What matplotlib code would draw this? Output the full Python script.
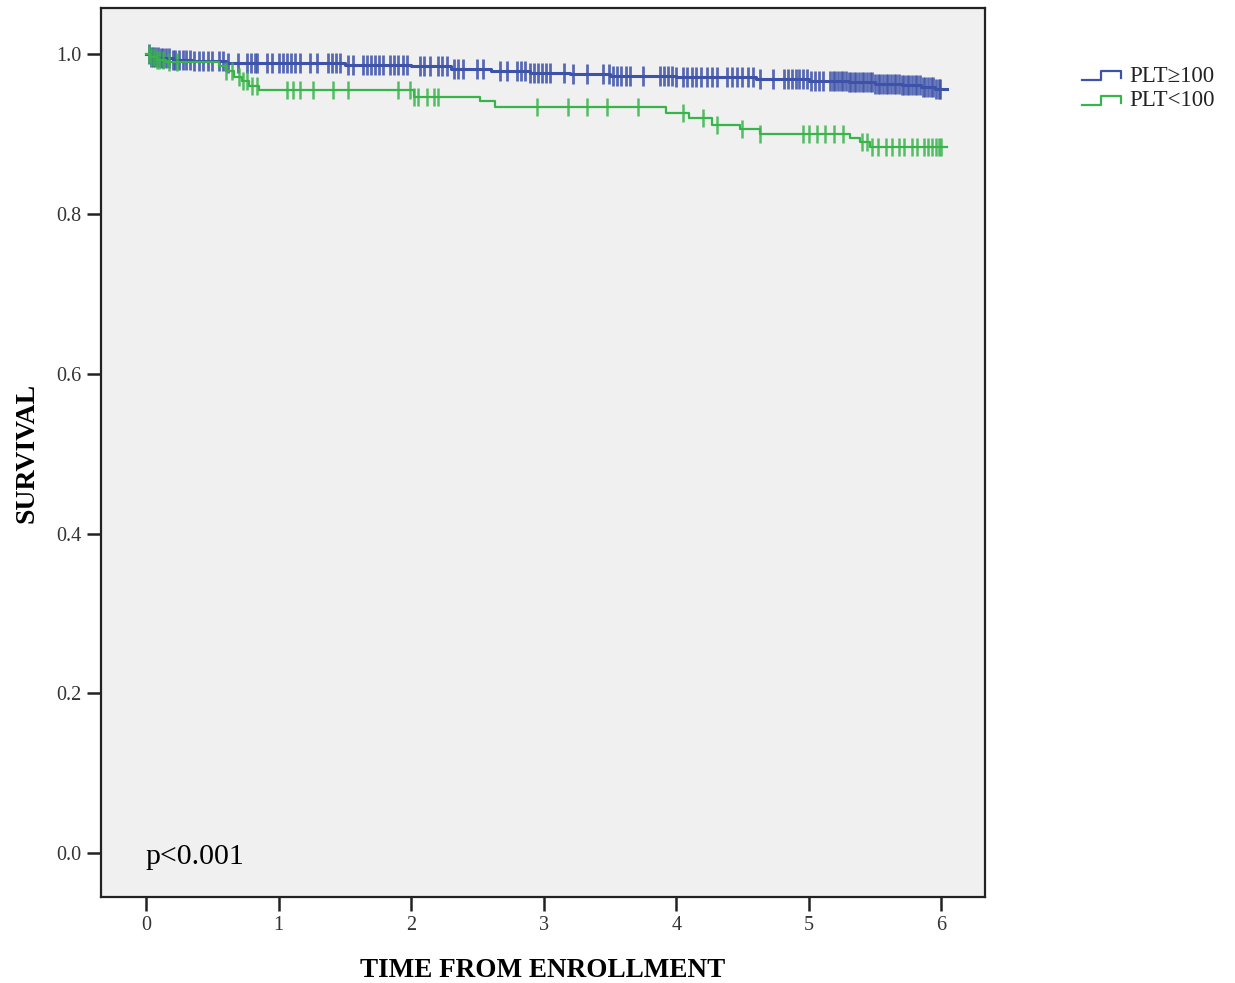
import numpy as np
import matplotlib.pyplot as plt
from matplotlib.lines import Line2D

plt.rcParams['font.family'] = ['Liberation Serif', 'DejaVu Serif']

# Kaplan-Meier step points: PLT>=100
hi_times = [0.0, 0.03, 0.1, 0.2, 0.35, 0.6, 1.5, 2.0, 2.3, 2.6, 2.9, 3.2, 3.5,
            4.0, 4.6, 5.0, 5.3, 5.5, 5.7, 5.85, 5.95]
hi_surv = [1.0, 0.997, 0.995, 0.993, 0.991, 0.989, 0.987, 0.985, 0.982, 0.979,
           0.977, 0.975, 0.973, 0.971, 0.969, 0.967, 0.965, 0.963, 0.961, 0.959, 0.957]
hi_end = 6.04
hi_censor = [0.02, 0.04, 0.05, 0.07, 0.09, 0.11, 0.13, 0.15, 0.17, 0.2, 0.22, 0.25,
             0.28, 0.3, 0.33, 0.36, 0.4, 0.43, 0.47, 0.5, 0.55, 0.58, 0.62, 0.69,
             0.76, 0.79, 0.82, 0.84, 0.91, 0.95, 1.0, 1.03, 1.06, 1.09, 1.12, 1.16,
             1.24, 1.29, 1.37, 1.4, 1.43, 1.46, 1.52, 1.56, 1.64, 1.67, 1.7, 1.73,
             1.76, 1.79, 1.84, 1.87, 1.9, 1.94, 1.97, 2.07, 2.1, 2.14, 2.2, 2.23,
             2.27, 2.32, 2.35, 2.39, 2.5, 2.54, 2.67, 2.72, 2.8, 2.83, 2.86, 2.9,
             2.93, 2.96, 2.99, 3.02, 3.05, 3.15, 3.22, 3.33, 3.45, 3.49, 3.52, 3.55,
             3.58, 3.62, 3.65, 3.75, 3.88, 3.91, 3.94, 3.97, 4.0, 4.05, 4.08, 4.12,
             4.15, 4.19, 4.23, 4.27, 4.31, 4.38, 4.42, 4.46, 4.5, 4.54, 4.58, 4.63,
             4.73, 4.81, 4.84, 4.87, 4.9, 4.93, 4.96, 4.99, 5.02, 5.05, 5.08, 5.11,
             5.16, 5.18, 5.2, 5.22, 5.24, 5.26, 5.28, 5.3, 5.32, 5.34, 5.36, 5.38,
             5.4, 5.42, 5.44, 5.46, 5.48, 5.5, 5.52, 5.54, 5.56, 5.58, 5.6, 5.62,
             5.64, 5.66, 5.68, 5.7, 5.72, 5.74, 5.76, 5.78, 5.8, 5.82, 5.84, 5.86,
             5.88, 5.9, 5.92, 5.94, 5.96, 5.98, 5.99]

# PLT<100
lo_times = [0.0, 0.03, 0.08, 0.15, 0.55, 0.6, 0.66, 0.72, 0.78, 0.85, 2.02, 2.52,
            2.63, 3.92, 4.1, 4.27, 4.48, 4.63, 5.31, 5.39, 5.46]
lo_surv = [1.0, 0.996, 0.993, 0.99, 0.985, 0.979, 0.972, 0.966, 0.96, 0.955, 0.947,
           0.941, 0.934, 0.927, 0.92, 0.912, 0.906, 0.9, 0.895, 0.89, 0.884]
lo_end = 6.04
lo_censor = [0.02, 0.04, 0.06, 0.08, 0.1, 0.13, 0.17, 0.23, 0.6, 0.65, 0.7, 0.73,
             0.76, 0.8, 0.84, 1.06, 1.11, 1.16, 1.26, 1.41, 1.52, 1.9, 1.99, 2.02,
             2.05, 2.12, 2.17, 2.2, 2.95, 3.18, 3.33, 3.48, 3.71, 4.05, 4.2, 4.31,
             4.5, 4.63, 4.96, 5.0, 5.06, 5.12, 5.19, 5.26, 5.4, 5.44, 5.48, 5.52,
             5.58, 5.63, 5.68, 5.72, 5.78, 5.82, 5.87, 5.9, 5.93, 5.96, 5.98, 6.0]

BLUE = '#3d52a9'
GREEN = '#38b44a'


def surv_at(times, surv, t):
    idx = np.searchsorted(times, t, side='right') - 1
    return np.asarray(surv)[idx]


fig = plt.figure(figsize=(12.35, 9.83), dpi=100)
ax = fig.add_axes([0.0818, 0.0875, 0.7158, 0.9044])
ax.set_facecolor('#f0f0f0')

for times, surv, end, cens, col, lw, ms, mew in [
        (hi_times, hi_surv, hi_end, hi_censor, BLUE, 2.2, 14, 2.0),
        (lo_times, lo_surv, lo_end, lo_censor, GREEN, 1.6, 13, 1.8)]:
    ax.step(list(times) + [end], list(surv) + [surv[-1]], where='post',
            color=col, lw=lw, zorder=3)
    ax.plot(cens, surv_at(times, surv, cens), linestyle='none', marker='|',
            ms=ms, mew=mew, color=col, alpha=0.85, zorder=3)

ax.set_xlim(-0.34, 6.33)
ax.set_ylim(-0.055, 1.058)
ax.set_xticks(range(7))
ax.set_yticks([0.0, 0.2, 0.4, 0.6, 0.8, 1.0])
ax.set_yticklabels(['0.0', '0.2', '0.4', '0.6', '0.8', '1.0'])
ax.tick_params(direction='out', length=10, width=1.8, color='#222222',
               labelsize=14.5, labelcolor='#333333', pad=4)

for sp in ax.spines.values():
    sp.set_linewidth(1.6)
    sp.set_color('#222222')

ax.set_xlabel('TIME FROM ENROLLMENT', fontsize=19.5, fontweight='bold', labelpad=16)
ax.set_ylabel('SURVIVAL', fontsize=20, fontweight='bold', labelpad=12)

ax.text(0.05, 0.045, 'p<0.001', transform=ax.transAxes, fontsize=21.5,
        ha='left', va='center')

# legend with step-shaped keys, placed to the right of the axes
W, H = 1235.0, 983.0
for (ybase, ytop), col, label in [((80, 71), BLUE, 'PLT≥100'),
                                  ((105, 96), GREEN, 'PLT<100')]:
    xs = np.array([1082, 1101, 1101, 1121, 1121]) / W
    ys = 1 - np.array([ybase, ybase, ytop, ytop, ybase - 2]) / H
    fig.add_artist(Line2D(xs, ys, transform=fig.transFigure, color=col, lw=1.6))
    fig.text(1129 / W, 1 - (ybase - 4) / H, label, fontsize=16.5, ha='left',
             va='center', color='#222222')

fig.savefig('out.png', dpi=100)
